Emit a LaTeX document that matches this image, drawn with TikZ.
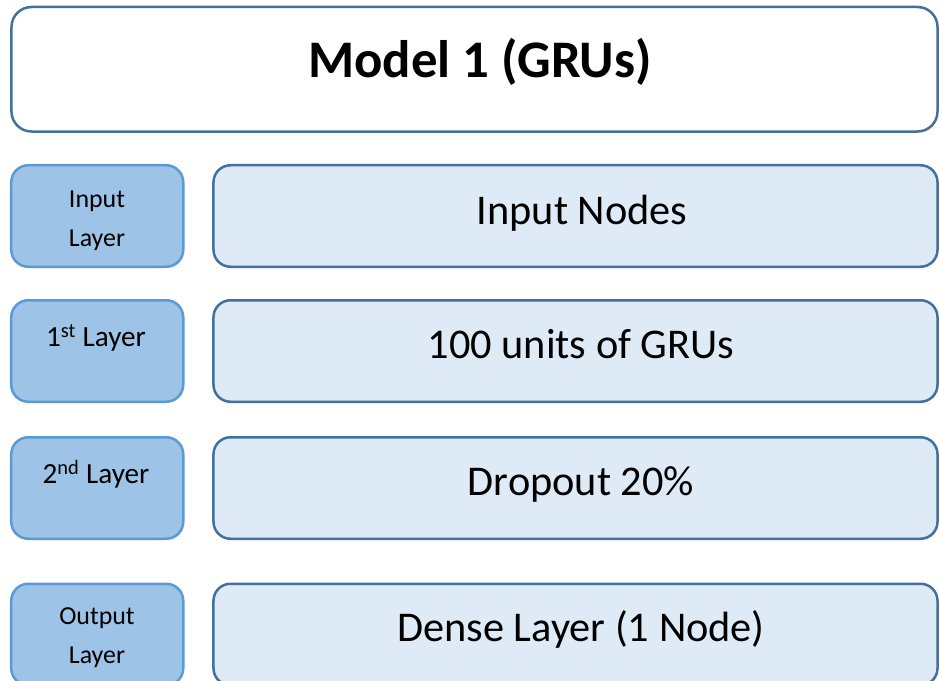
\documentclass[tikz,border=0pt]{standalone}
\usepackage{fontspec}
\setmainfont{Carlito}
\definecolor{darkedge}{HTML}{41719C}
\definecolor{lightedge}{HTML}{5B9BD5}
\definecolor{leftfill}{HTML}{9DC3E6}
\definecolor{rightfill}{HTML}{DEEBF7}
\tikzset{
  boxbase/.style={draw, line width=2.5bp, inner sep=0pt, outer sep=0pt},
  titlebox/.style={boxbase, draw=darkedge, fill=white, rounded corners=20bp, minimum width=926bp, minimum height=124.5bp},
  leftbox/.style={boxbase, draw=lightedge, fill=leftfill, rounded corners=17bp, minimum width=172bp, minimum height=101.5bp},
  rightbox/.style={boxbase, draw=darkedge, fill=rightfill, rounded corners=17bp, minimum width=724bp, minimum height=101.5bp},
  titletxt/.style={anchor=base, font=\fontsize{53}{60}\selectfont\bfseries, inner sep=0pt},
  righttxt/.style={anchor=base, font=\fontsize{42.5}{50}\selectfont, inner sep=0pt},
  lefttxt/.style={anchor=base, font=\fontsize{26}{30}\selectfont, inner sep=0pt},
  lefttxtbig/.style={anchor=base, font=\fontsize{29.3}{34}\selectfont, inner sep=0pt},
}
\begin{document}
\begin{tikzpicture}[x=1bp,y=-1bp]
\useasboundingbox (0,0) rectangle (939,681);
\begin{scope}
\clip (0,0) rectangle (939,681);
\node[titlebox] (title) at (474.5,69.25) {};
\node[leftbox] (l1) at (97.25,216) {};
\node[leftbox] (l2) at (97.25,351) {};
\node[leftbox] (l3) at (97.25,488) {};
\node[leftbox] (l4) at (97.25,634.5) {};
\node[rightbox] (r1) at (575.5,216) {};
\node[rightbox] (r2) at (575.5,351) {};
\node[rightbox] (r3) at (575.5,488) {};
\node[rightbox] (r4) at (575.5,634.5) {};
\end{scope}
\node[titletxt] (tt) at (480,77.5) {Model 1 (GRUs)};
\node[righttxt] (rt1) at (582,224) {Input Nodes};
\node[righttxt] (rt2) at (581,358) {100 units of GRUs};
\node[righttxt] (rt3) at (581,495) {Dropout 20\%};
\node[righttxt] (rt4) at (581,641) {Dense Layer (1 Node)};
\node[lefttxt] (lt1a) at (97,207.5) {Input};
\node[lefttxt] (lt1b) at (97,246) {Layer};
\node[lefttxtbig] (lt2) at (96,346) {1\textsuperscript{st} Layer};
\node[lefttxtbig] (lt3) at (96,483) {2\textsuperscript{nd} Layer};
\node[lefttxt] (lt4a) at (97,624) {Output};
\node[lefttxt] (lt4b) at (97,663) {Layer};
\end{tikzpicture}
\end{document}
